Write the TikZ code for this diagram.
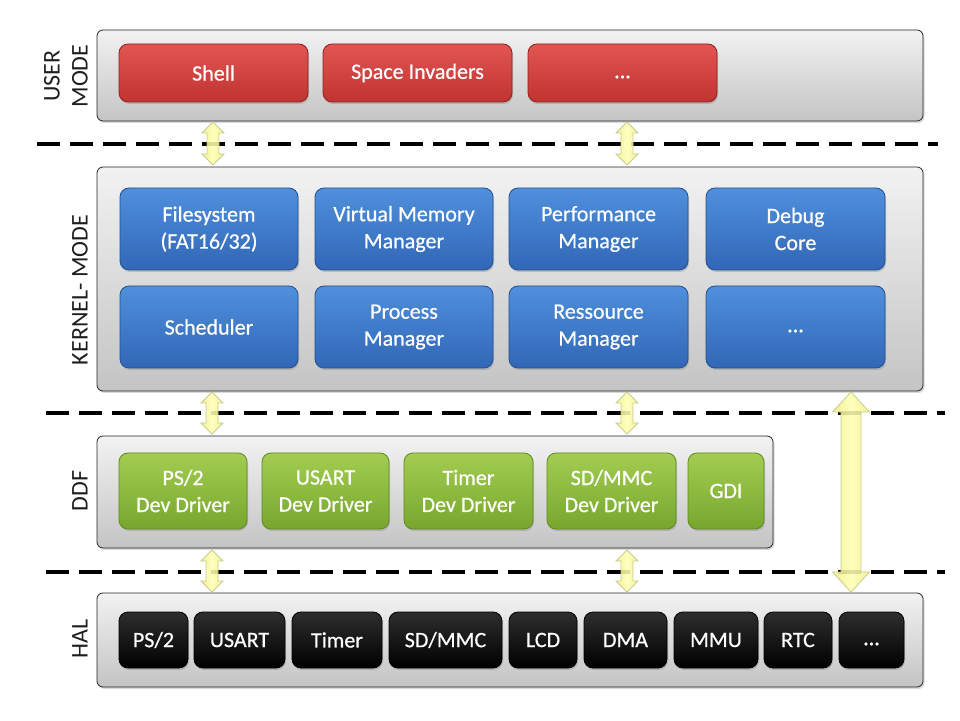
\documentclass[tikz,border=0pt]{standalone}
\usepackage{fontspec}
\setmainfont{Carlito}
\newfontfamily\boxfont[FakeBold=0.6]{Carlito}
\usetikzlibrary{calc,shadows}
\definecolor{panelTop}{HTML}{F2F2F2}
\definecolor{panelBot}{HTML}{C4C4C4}
\definecolor{redTop}{HTML}{E15553}
\definecolor{redBot}{HTML}{C03331}
\definecolor{redEdge}{HTML}{8E2221}
\definecolor{blueTop}{HTML}{4F90DC}
\definecolor{blueBot}{HTML}{3167B6}
\definecolor{blueEdge}{HTML}{25508F}
\definecolor{greenTop}{HTML}{A2CD52}
\definecolor{greenBot}{HTML}{78A62C}
\definecolor{greenEdge}{HTML}{5F8A22}
\definecolor{blackTop}{HTML}{2E2E2E}
\definecolor{blackBot}{HTML}{000000}
\definecolor{arrMid}{HTML}{FFFFB4}
\definecolor{arrSide}{HTML}{EEF08A}
\definecolor{arrEdge}{HTML}{C9CB8E}
\definecolor{labelCol}{HTML}{1E1E1E}
\newcommand\yarrow[5]{%
  \draw[yarrowstyle] (#1) -- ($(#1)+(#4,-#5)$) -- ($(#1)+(#3,-#5)$) -- ($(#2)+(#3,#5)$)
    -- ($(#2)+(#4,#5)$) -- (#2) -- ($(#2)+(-#4,#5)$) -- ($(#2)+(-#3,#5)$)
    -- ($(#1)+(-#3,-#5)$) -- ($(#1)+(-#4,-#5)$) -- cycle;}
\newcommand\dotsline{\vphantom{Ag}...}
\begin{document}
\begin{tikzpicture}[x=1pt,y=1pt,
  sz/.style 2 args={minimum width=#1pt, minimum height=#2pt},
  panel/.style={draw=black!85, line width=0.8pt, rounded corners=6pt,
    top color=panelTop, bottom color=panelBot, inner sep=0pt,
    drop shadow={shadow xshift=1.5pt, shadow yshift=-2pt, opacity=0.3}},
  boxbase/.style={line width=0.8pt, rounded corners=9pt, inner sep=0pt, align=center,
    text=white, font=\boxfont\fontsize{22}{27}\selectfont,
    drop shadow={shadow xshift=1pt, shadow yshift=-2pt, opacity=0.35}},
  redbox/.style={boxbase, draw=redEdge, top color=redTop, bottom color=redBot},
  bluebox/.style={boxbase, draw=blueEdge, top color=blueTop, bottom color=blueBot},
  greenbox/.style={boxbase, draw=greenEdge, top color=greenTop, bottom color=greenBot},
  blackbox/.style={boxbase, draw=black, top color=blackTop, bottom color=blackBot},
  layerlabel/.style={rotate=90, align=center, text=labelCol,
    font=\fontsize{24}{28}\selectfont},
  sepline/.style={draw=black, line width=4pt, dash pattern=on 23pt off 10pt},
  yarrowstyle/.style={draw=arrEdge, line width=0.8pt, left color=arrSide,
    right color=arrSide, middle color=arrMid, fill opacity=0.88}
]
\useasboundingbox (0,0) rectangle (960,720);

% separator lines
\coordinate (d1l) at (37,576);  \coordinate (d1r) at (938,576);
\coordinate (d2l) at (46,307);  \coordinate (d2r) at (945,307);
\coordinate (d3l) at (46,148);  \coordinate (d3r) at (945,148);
\draw[sepline] (d1l) -- (d1r);
\draw[sepline] (d2l) -- (d2r);
\draw[sepline] (d3l) -- (d3r);

% panels
\node[panel, sz={826}{91}]  (userp) at (510,644.5) {};
\node[panel, sz={826}{224}] (kernp) at (510,441) {};
\node[panel, sz={676}{112}] (ddfp)  at (435,228) {};
\node[panel, sz={826}{94}]  (halp)  at (510,80) {};

% layer labels
\node[layerlabel] (lUser) at (66,644) {USER\\MODE};
\node[layerlabel] (lKern) at (80,430) {KERNEL- MODE};
\node[layerlabel] (lDdf)  at (80,229) {DDF};
\node[layerlabel] (lHal)  at (80,81)  {HAL};

% user mode
\node[redbox, sz={189}{58}] (shell) at (213.5,647) {Shell};
\node[redbox, sz={189}{58}] (space) at (417.5,647) {Space Invaders};
\node[redbox, sz={189}{58}] (udots) at (622.5,647) {\dotsline};

% kernel mode
\node[bluebox, sz={178}{82}] (fs)    at (209,491) {Filesystem\\(FAT16/32)};
\node[bluebox, sz={178}{82}] (vmm)   at (404,491) {Virtual Memory\\Manager};
\node[bluebox, sz={179}{82}] (perf)  at (598.5,491) {Performance\\Manager};
\node[bluebox, sz={179}{82}] (debug) at (795.5,491) {Debug\\Core};
\node[bluebox, sz={178}{82}] (sched) at (209,393) {Scheduler};
\node[bluebox, sz={178}{82}] (proc)  at (404,393) {Process\\Manager};
\node[bluebox, sz={179}{82}] (res)   at (598.5,393) {Ressource\\Manager};
\node[bluebox, sz={179}{82}] (kdots) at (795.5,393) {\dotsline};

% DDF
\node[greenbox, sz={128}{76}] (ps2d)   at (183,229) {PS/2\\Dev Driver};
\node[greenbox, sz={127}{76}] (usartd) at (325.5,229) {USART\\Dev Driver};
\node[greenbox, sz={129}{76}] (timerd) at (468.5,229) {Timer\\Dev Driver};
\node[greenbox, sz={129}{76}] (sdd)    at (611.5,229) {SD/MMC\\Dev Driver};
\node[greenbox, sz={76}{76}]  (gdi)    at (726,229) {GDI};

% HAL
\node[blackbox, sz={69}{56}]  (ps2h)   at (153.5,80) {PS/2};
\node[blackbox, sz={91}{56}]  (usarth) at (239.5,80) {USART};
\node[blackbox, sz={90}{56}]  (timerh) at (337,80) {Timer};
\node[blackbox, sz={113}{56}] (sdh)    at (445.5,80) {SD/MMC};
\node[blackbox, sz={68}{56}]  (lcdh)   at (543,80) {LCD};
\node[blackbox, sz={83}{56}]  (dmah)   at (625.5,80) {DMA};
\node[blackbox, sz={84}{56}]  (mmuh)   at (716,80) {MMU};
\node[blackbox, sz={68}{56}]  (rtch)   at (798,80) {RTC};
\node[blackbox, sz={65}{56}]  (hdots)  at (871.5,80) {\dotsline};

% arrow end points
\coordinate (a1t) at (213,598); \coordinate (a1b) at (213,555);
\coordinate (a2t) at (627,598); \coordinate (a2b) at (627,555);
\coordinate (a3t) at (212,328); \coordinate (a3b) at (212,286);
\coordinate (a4t) at (627,328); \coordinate (a4b) at (627,286);
\coordinate (a5t) at (212,170); \coordinate (a5b) at (212,128);
\coordinate (a6t) at (627,170); \coordinate (a6b) at (627,128);
\coordinate (a7t) at (851,328); \coordinate (a7b) at (851,128);

\yarrow{a1t}{a1b}{6}{11}{11}
\yarrow{a2t}{a2b}{6}{11}{11}
\yarrow{a3t}{a3b}{6}{11}{11}
\yarrow{a4t}{a4b}{6}{11}{11}
\yarrow{a5t}{a5b}{6}{11}{11}
\yarrow{a6t}{a6b}{6}{11}{11}
\yarrow{a7t}{a7b}{10}{18.5}{20}
\end{tikzpicture}
\end{document}
